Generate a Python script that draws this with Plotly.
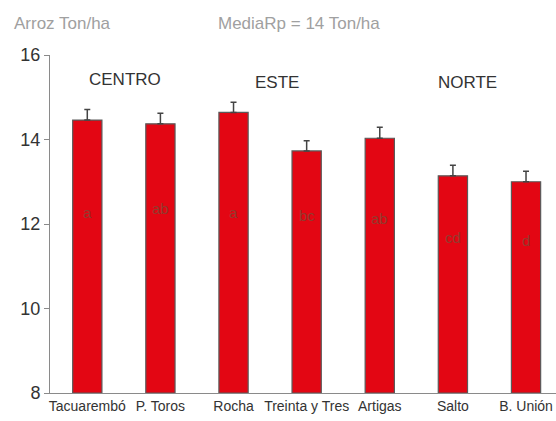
import plotly.graph_objects as go

categories = ["Tacuarembó", "P. Toros", "Rocha", "Treinta y Tres", "Artigas", "Salto", "B. Unión"]
values = [14.46, 14.37, 14.64, 13.73, 14.03, 13.14, 13.00]
errors = [0.25, 0.25, 0.24, 0.24, 0.26, 0.25, 0.25]
letters = ["a", "ab", "a", "bc", "ab", "cd", "d"]
letter_y = [12.28, 12.36, 12.28, 12.2, 12.14, 11.69, 11.6]
regions = ["CENTRO", "ESTE", "NORTE"]
region_x = [0.52, 2.59, 5.2]
region_y = [15.41, 15.34, 15.34]

font_fam = "Liberation Sans Narrow, Arial Narrow, Liberation Sans, Arial, sans-serif"

fig = go.Figure()
fig.add_trace(go.Bar(
    x=list(range(len(categories))), y=[v - 8 for v in values], base=8,
    width=0.4,
    marker=dict(color="#e30613", line=dict(color="#5a5a5a", width=1.2)),
    error_y=dict(type="data", array=errors, arrayminus=[0]*len(errors),
                 color="#444444", thickness=1.5, width=3),
    showlegend=False, hoverinfo="skip",
))

for i, (t, ly) in enumerate(zip(letters, letter_y)):
    fig.add_annotation(x=i, y=ly, text=t, showarrow=False,
                       font=dict(family=font_fam, size=15, color="#933a2e"))

for t, rx, ry in zip(regions, region_x, region_y):
    fig.add_annotation(x=rx, y=ry, text=t, showarrow=False,
                       font=dict(family=font_fam, size=17, color="#333333"))

fig.add_annotation(xref="paper", yref="paper", x=-0.075, y=1.0, yshift=32,
                   xanchor="left", yanchor="middle", text="Arroz Ton/ha", showarrow=False,
                   font=dict(family=font_fam, size=17, color="#a0a0a0"))
fig.add_annotation(xref="paper", yref="paper", x=0.329, y=1.0, yshift=32,
                   xanchor="left", yanchor="middle", text="MediaRp = 14 Ton/ha", showarrow=False,
                   font=dict(family=font_fam, size=17, color="#a0a0a0"))

fig.update_layout(
    width=556, height=421,
    margin=dict(l=50, r=0, t=55, b=28),
    paper_bgcolor="white", plot_bgcolor="white",
    xaxis=dict(range=[-0.51, 6.41], tickmode="array",
               tickvals=list(range(len(categories))), ticktext=categories,
               showline=True, linecolor="#8a8a8a", linewidth=1,
               ticks="", showgrid=False, zeroline=False,
               tickfont=dict(family=font_fam, size=14, color="#333333")),
    yaxis=dict(range=[8, 16], tickvals=[8, 10, 12, 14, 16],
               showline=True, linecolor="#8a8a8a", linewidth=1,
               ticks="outside", ticklen=5, tickcolor="#8a8a8a",
               showgrid=False, zeroline=False,
               tickfont=dict(family=font_fam, size=18, color="#333333")),
)

fig.write_html("out.html")
